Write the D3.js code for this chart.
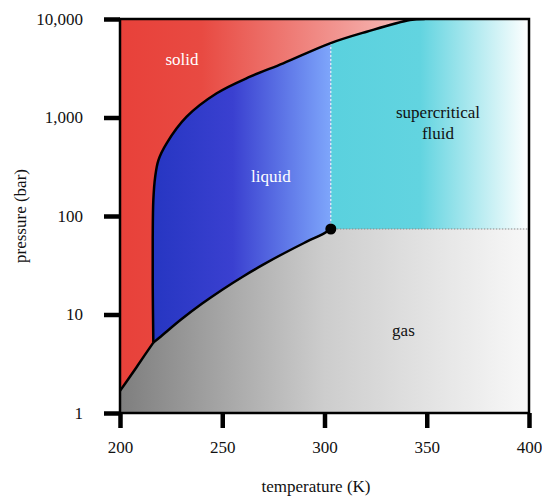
<!DOCTYPE html>
<html><head><meta charset="utf-8">
<script src="https://cdn.jsdelivr.net/npm/d3@7"></script>
<style>body{margin:0;background:#fff}svg{display:block}text{font-family:"Liberation Serif","Times New Roman",serif}</style>
</head><body>
<script>
// ---- data (CO2 phase diagram) ----
const xTicks = [200, 250, 300, 350, 400];
const yTicks = [1, 10, 100, 1000, 10000];
const yTickLabels = ["1", "10", "100", "1,000", "10,000"];
const sublimationT = [200, 204, 208, 212, 216.3];
const sublimationP = [1.68, 2.2, 2.9, 3.85, 5.18];
const vaporT = [216.3, 220, 230, 240, 250, 260, 270, 280, 290, 300, 303.1];
const vaporP = [5.18, 5.99, 8.93, 12.83, 17.85, 24.19, 32.03, 41.6, 53.2, 67.1, 73.8];
const meltT = [216.3, 216.0, 216.0, 216.3, 217.2, 218.8, 222.8, 232.6, 247.3, 263.6, 279.8, 302.7, 320.6, 341.8, 349];
const meltP = [5.18, 20, 60, 145, 250, 370, 547, 1019, 1762, 2596, 3550, 5665, 7430, 9772, 10000];
const critical = {T: 303.1, P: 73.8};
const regionLabels = [
  {lines: ["solid"], T: 230.3, P: 3400, color: "#fff"},
  {lines: ["liquid"], T: 273.8, P: 220, color: "#fff"},
  {lines: ["supercritical", "fluid"], T: 355.5, P: 990, color: "#111"},
  {lines: ["gas"], T: 338.6, P: 6.0, color: "#111"}
];

const W = 542, H = 498;
const m = {left: 120, right: 13, top: 19, bottom: 85};
const x = d3.scaleLinear().domain([200, 400]).range([m.left, W - m.right]);
const y = d3.scaleLog().domain([1, 10000]).range([H - m.bottom, m.top]);

const svg = d3.select("body").append("svg").attr("width", W).attr("height", H);
const defs = svg.append("defs");
function grad(id, x0, x1, stops) {
  const g = defs.append("linearGradient").attr("id", id).attr("gradientUnits", "userSpaceOnUse")
    .attr("x1", x(x0)).attr("x2", x(x1)).attr("y1", 0).attr("y2", 0);
  stops.forEach(s => g.append("stop").attr("offset", s[0]).attr("stop-color", s[1]));
}
grad("gSolid", 200, 400, [[0, "#e8413a"], [0.2, "#e84a42"], [1, "#ffffff"]]);
grad("gLiquid", 216, 303.1, [[0, "#2636c2"], [0.45, "#3a40d0"], [1, "#7ea6fb"]]);
grad("gSuper", 303.1, 400, [[0, "#5ad1de"], [0.45, "#62d4e0"], [1, "#ffffff"]]);
grad("gGas", 200, 400, [[0, "#7e7e7e"], [0.5, "#cdcdcd"], [1, "#f8f8f8"]]);

defs.append("clipPath").attr("id", "cPlot").append("rect")
  .attr("x", x(200)).attr("y", y(10000)).attr("width", x(400) - x(200)).attr("height", y(1) - y(10000));
defs.append("clipPath").attr("id", "cLeft").append("rect")
  .attr("x", x(200)).attr("y", y(10000)).attr("width", x(critical.T) - x(200)).attr("height", y(1) - y(10000));
defs.append("clipPath").attr("id", "cRight").append("rect")
  .attr("x", x(critical.T)).attr("y", y(10000)).attr("width", x(400) - x(critical.T)).attr("height", y(1) - y(10000));

const zip = (a, b) => a.map((v, i) => [v, b[i]]);
const subl = zip(sublimationT, sublimationP);
const vap = zip(vaporT, vaporP);
const melt = zip(meltT, meltP);

const line = d3.line().x(d => x(d[0])).y(d => y(d[1])).curve(d3.curveCatmullRom.alpha(0.5));
const plot = svg.append("g").attr("clip-path", "url(#cPlot)");

// solid background
plot.append("rect").attr("x", x(200)).attr("y", y(10000)).attr("width", x(400) - x(200))
  .attr("height", y(1) - y(10000)).attr("fill", "url(#gSolid)");

// fluid region (right of melting curve, above vapor curve / Pc)
const meltPath = line(melt);
const vapRev = line(vap.slice().reverse());
const fluidD = meltPath + "L" + x(400) + "," + y(10000) + "L" + x(400) + "," + y(critical.P) +
  "L" + x(critical.T) + "," + y(critical.P) + vapRev.replace(/^M/, "L") + "Z";
plot.append("path").attr("d", fluidD).attr("fill", "url(#gLiquid)").attr("clip-path", "url(#cLeft)");
plot.append("path").attr("d", fluidD).attr("fill", "url(#gSuper)").attr("clip-path", "url(#cRight)");

// gas region
const gasD = line(subl) + line(vap).replace(/^M[^C]*/, "") + "L" + x(400) + "," + y(critical.P) +
  "L" + x(400) + "," + y(1) + "L" + x(200) + "," + y(1) + "Z";
plot.append("path").attr("d", gasD).attr("fill", "url(#gGas)");

// dashed white boundaries of supercritical region
plot.append("line").attr("x1", x(critical.T)).attr("x2", x(critical.T))
  .attr("y1", y(critical.P)).attr("y2", y(5700))
  .attr("stroke", "#fff").attr("stroke-width", 1).attr("stroke-dasharray", "2,2");
plot.append("line").attr("x1", x(critical.T)).attr("x2", x(400))
  .attr("y1", y(critical.P)).attr("y2", y(critical.P))
  .attr("stroke", "#888").attr("stroke-width", 1).attr("stroke-dasharray", "1.5,1.5");

// phase boundary curves
plot.append("path").attr("d", line(subl)).attr("fill", "none").attr("stroke", "#000").attr("stroke-width", 2.5);
plot.append("path").attr("d", line(vap)).attr("fill", "none").attr("stroke", "#000").attr("stroke-width", 2.5);
plot.append("path").attr("d", meltPath).attr("fill", "none").attr("stroke", "#000").attr("stroke-width", 2.5);

svg.append("circle").attr("cx", x(critical.T)).attr("cy", y(critical.P)).attr("r", 5.5).attr("fill", "#000");

// region labels
regionLabels.forEach(l => {
  const t = svg.append("text").attr("x", x(l.T)).attr("y", y(l.P)).attr("text-anchor", "middle")
    .attr("font-size", 17).attr("fill", l.color);
  l.lines.forEach((s, i) => t.append("tspan").attr("x", x(l.T)).attr("dy", i === 0 ? 0 : 21).text(s));
});

// frame
svg.append("rect").attr("x", x(200)).attr("y", y(10000)).attr("width", x(400) - x(200))
  .attr("height", y(1) - y(10000)).attr("fill", "none").attr("stroke", "#000").attr("stroke-width", 2.5);

// axes
const xAxis = d3.axisBottom(x).tickValues(xTicks).tickSize(15).tickPadding(13);
const gx = svg.append("g").attr("transform", `translate(0,${y(1)})`).call(xAxis);
const yAxis = d3.axisLeft(y).tickValues(yTicks).tickFormat((d, i) => yTickLabels[i]).tickSize(16).tickPadding(21);
const gy = svg.append("g").attr("transform", `translate(${x(200)},0)`).call(yAxis);
[gx, gy].forEach(g => {
  g.select(".domain").remove();
  g.selectAll(".tick line").attr("stroke", "#000").attr("stroke-width", 4.5);
  g.selectAll(".tick text").attr("font-size", 17).attr("fill", "#111")
    .style("font-family", '"Liberation Serif", serif');
});

svg.append("text").attr("x", 316).attr("y", 492).attr("text-anchor", "middle").attr("font-size", 17)
  .attr("fill", "#111").text("temperature (K)");
svg.append("text").attr("transform", `translate(26,${(y(1) + y(10000)) / 2}) rotate(-90)`)
  .attr("text-anchor", "middle").attr("font-size", 17).attr("fill", "#111").text("pressure (bar)");
</script>
</body></html>
